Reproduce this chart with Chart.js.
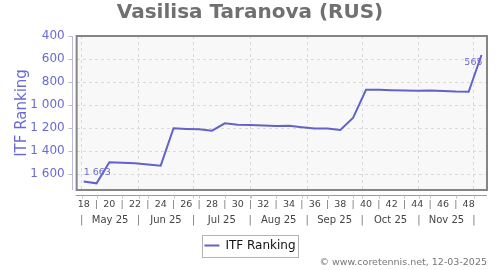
<!DOCTYPE html>
<html lang="en">
<head>
<meta charset="UTF-8">
<title>Vasilisa Taranova (RUS)</title>
<script src="https://cdn.jsdelivr.net/npm/chart.js"></script>
<style>
    html, body {
        margin: 0;
        padding: 0;
        background-color: #ffffff;
    }
    #wrap {
        width: 500px;
        height: 270px;
    }
</style>
</head>
<body>
<div id="wrap"><canvas id="itf-chart" width="500" height="270"></canvas></div>
<script>
// weekly ITF ranking (ISO week number -> rank)
const weeks = [18, 19, 20, 21, 22, 23, 24, 25, 26, 27, 28, 29, 30, 31, 32, 33,
               34, 35, 36, 37, 38, 39, 40, 41, 42, 43, 44, 45, 46, 47, 48, 49];
const ranking = [1663, 1678, 1496, 1500, 1505, 1515, 1525, 1200, 1206, 1210, 1221, 1157, 1169, 1172, 1176, 1180,
                 1178, 1191, 1203, 1203, 1215, 1108, 867, 867, 870, 873, 875, 873, 877, 882, 884, 565];

// axis labels
const weekTicks = [18, 19, 20, 21, 22, 23, 24, 25, 26, 27, 28, 29, 30, 31, 32, 33,
                   34, 35, 36, 37, 38, 39, 40, 41, 42, 43, 44, 45, 46, 47, 48];
const monthNames = ['May 25', 'Jun 25', 'Jul 25', 'Aug 25', 'Sep 25', 'Oct 25', 'Nov 25'];
// first day of each month, in week units (May 1 ... Dec 1)
const monthEdges = [17.84, 22.27, 26.55, 30.98, 35.41, 39.70, 44.13, 48.41];
const yTicks = [400, 600, 800, 1000, 1200, 1400, 1600];

const purple = '#6a6ad0';
const lineColor = '#6262c8';
const xMin = 17.45, xMax = 49.43;

function fmt(v) {
    return String(v).replace(/\B(?=(\d{3})+(?!\d))/g, ' ');
}

// month row: separators at edges, names in the middle
const monthTickValues = [];
const monthTickLabels = [];
monthEdges.forEach((e, i) => {
    monthTickValues.push(e);
    monthTickLabels.push('|');
    if (i < monthNames.length) {
        monthTickValues.push((e + monthEdges[i + 1]) / 2);
        monthTickLabels.push(monthNames[i]);
    }
});

Chart.defaults.font.family = "'DejaVu Sans', sans-serif";

const frame = {
    id: 'frame',
    beforeDraw(chart) {
        const a = chart.chartArea, c = chart.ctx;
        c.save();
        c.fillStyle = '#f8f8f8';
        c.fillRect(a.left, a.top, a.right - a.left, a.bottom - a.top);
        c.restore();
    },
    afterDatasetsDraw(chart) {
        const a = chart.chartArea, c = chart.ctx;
        const xs = chart.scales.x, ys = chart.scales.y;
        c.save();
        c.strokeStyle = '#858585';
        c.lineWidth = 2;
        c.strokeRect(a.left, a.top, a.right - a.left, a.bottom - a.top);

        // y axis line, set off to the left
        const ax = Math.round(a.left - 5) + 0.5;
        c.strokeStyle = '#b8b8e0';
        c.lineWidth = 1;
        c.beginPath();
        c.moveTo(ax, a.top);
        c.lineTo(ax, a.bottom);
        yTicks.forEach(v => {
            const y = Math.round(ys.getPixelForValue(v)) + 0.5;
            c.moveTo(ax - 4, y);
            c.lineTo(ax, y);
        });
        c.stroke();

        // x axis line, set off below
        const ay = Math.round(a.bottom + 5) + 0.5;
        c.strokeStyle = '#9a9a9a';
        c.beginPath();
        c.moveTo(a.left - 1, ay);
        c.lineTo(a.right, ay);
        c.stroke();
        c.strokeStyle = '#c4c4c4';
        c.beginPath();
        weekTicks.filter(w => w % 2 === 1).concat(monthEdges).forEach(w => {
            const x = Math.round(xs.getPixelForValue(w)) + 0.5;
            c.moveTo(x, ay);
            c.lineTo(x, ay + 3);
        });
        c.stroke();

        // first and last value labels
        const pts = chart.getDatasetMeta(0).data;
        const p0 = pts[0], pl = pts[pts.length - 1];
        c.fillStyle = purple;
        c.font = "9.5px 'DejaVu Sans'";
        c.textBaseline = 'middle';
        c.textAlign = 'left';
        c.fillText(fmt(ranking[0]), p0.x, p0.y - 9);
        c.textAlign = 'right';
        c.fillText(fmt(ranking[ranking.length - 1]), pl.x + 1, pl.y + 8);
        c.restore();
    },
    afterDraw(chart) {
        const hb = chart.legend && chart.legend.legendHitBoxes && chart.legend.legendHitBoxes[0];
        if (!hb) return;
        const c = chart.ctx;
        c.save();
        c.strokeStyle = '#b4b4b4';
        c.lineWidth = 1;
        c.strokeRect(Math.round(hb.left - 2) + 0.5, Math.round(hb.top - 5) + 0.5,
                     Math.round(hb.width + 5), Math.round(hb.height + 10));
        c.restore();
    }
};

new Chart(document.getElementById('itf-chart').getContext('2d'), {
    type: 'line',
    data: {
        datasets: [{
            label: 'ITF Ranking',
            data: weeks.map((w, i) => ({ x: w, y: ranking[i] })),
            borderColor: lineColor,
            backgroundColor: lineColor,
            borderWidth: 2,
            pointRadius: 0,
            tension: 0,
            fill: false
        }]
    },
    options: {
        responsive: false,
        animation: false,
        layout: { padding: { left: 13, right: 13, top: 0, bottom: 0 } },
        scales: {
            x: {
                type: 'linear',
                position: 'bottom',
                min: xMin,
                max: xMax,
                afterBuildTicks: s => { s.ticks = weekTicks.map(v => ({ value: v })); },
                ticks: {
                    autoSkip: false,
                    maxRotation: 0,
                    minRotation: 0,
                    padding: 0,
                    font: { size: 9.5 },
                    color: ctx => (ctx.tick && ctx.tick.value % 2 === 1) ? '#777' : '#444',
                    callback: v => v % 2 === 0 ? String(v) : '|'
                },
                grid: { display: false, tickLength: 9 },
                border: { display: false }
            },
            months: {
                type: 'linear',
                position: 'bottom',
                min: xMin,
                max: xMax,
                afterBuildTicks: s => { s.ticks = monthTickValues.map(v => ({ value: v })); },
                ticks: {
                    autoSkip: false,
                    maxRotation: 0,
                    minRotation: 0,
                    padding: 4.1,
                    font: { size: 10 },
                    color: ctx => monthTickLabels[ctx.index] === '|' ? '#777' : '#444',
                    callback: (v, i) => monthTickLabels[i]
                },
                grid: {
                    drawTicks: false,
                    color: ctx => monthTickLabels[ctx.index] === '|' ? '#dadada' : 'rgba(0,0,0,0)'
                },
                border: { display: false, dash: [3, 3] }
            },
            y: {
                type: 'linear',
                position: 'left',
                reverse: true,
                min: 400,
                max: 1736,
                afterBuildTicks: s => { s.ticks = yTicks.map(v => ({ value: v })); },
                ticks: {
                    padding: 12,
                    color: purple,
                    font: { size: 12 },
                    callback: v => fmt(v)
                },
                grid: { color: '#dadada', drawTicks: false },
                border: { display: false, dash: [3, 3] },
                title: {
                    display: true,
                    text: 'ITF Ranking',
                    color: purple,
                    font: { size: 15 },
                    padding: { top: 0, bottom: -12.7 }
                }
            }
        },
        plugins: {
            title: {
                display: true,
                text: 'Vasilisa Taranova (RUS)',
                color: '#707070',
                font: { size: 20, weight: 'bold' },
                padding: { top: 1, bottom: 11 }
            },
            subtitle: {
                display: true,
                position: 'bottom',
                align: 'end',
                text: '© www.coretennis.net, 12-03-2025',
                color: '#777',
                font: { size: 9.5, weight: 'normal' },
                padding: { top: -4.3, bottom: 1.3 }
            },
            legend: {
                position: 'bottom',
                labels: {
                    usePointStyle: true,
                    pointStyle: 'line',
                    pointStyleWidth: 15,
                    padding: 9,
                    color: '#111',
                    font: { size: 12 }
                }
            },
            tooltip: { enabled: false }
        }
    },
    plugins: [frame]
});
</script>
</body>
</html>
